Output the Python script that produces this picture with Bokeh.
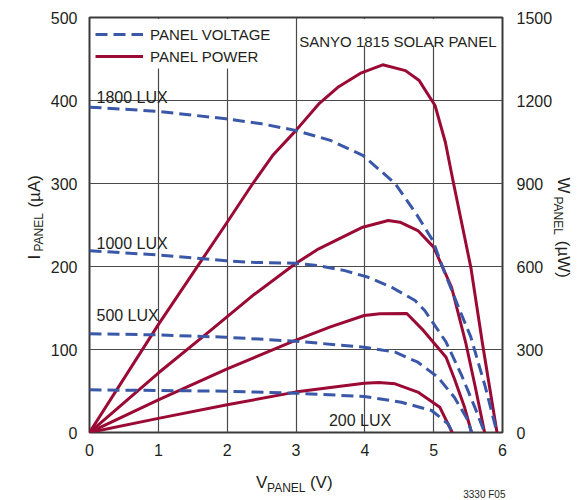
import math
from bokeh.plotting import figure
from bokeh.models import Label, Legend, LegendItem, LinearAxis, Range1d, FixedTicker, BoxAnnotation
from bokeh.embed import file_html
from bokeh.resources import INLINE

# ---------------- data ----------------
# current curves (uA) vs panel voltage (V)
v_i_1800 = [0, 0.99, 1.98, 2.5, 2.99, 3.5, 3.97, 4.44, 4.75, 4.99, 5.13, 5.38, 5.54, 5.75, 5.92]
i_1800 = [392, 387, 378, 372, 364, 352, 334, 300, 263, 231, 199, 147, 115, 55, 0]
v_i_1000 = [0, 0.99, 1.98, 2.37, 2.99, 3.33, 3.71, 4.05, 4.39, 4.73, 4.87, 5.18, 5.4, 5.6, 5.74]
i_1000 = [219, 214, 207, 205, 204, 201, 195, 187, 175, 159, 147, 109, 70, 30, 0]
v_i_500 = [0, 0.99, 1.98, 2.99, 3.99, 4.44, 4.77, 5.06, 5.30, 5.50, 5.55]
i_500 = [119, 117.6, 114.8, 110, 102.8, 96.8, 84.7, 66.7, 42.5, 14.5, 0]
v_i_200 = [0, 1.0, 1.98, 2.99, 3.99, 4.53, 4.97, 5.21, 5.27]
i_200 = [51.4, 50.6, 49.8, 47.4, 43.4, 36.5, 26.5, 10.4, 0]

# power curves (uW) vs panel voltage (V)
v_p_1800 = [0, 1, 2, 2.37, 2.66, 3.0, 3.34, 3.62, 3.95, 4.26, 4.59, 4.79, 5.02, 5.17, 5.29, 5.54, 5.71, 5.92]
p_1800 = [0, 390, 760, 899, 1001, 1092, 1190, 1250, 1300, 1329, 1308, 1272, 1182, 1049, 899, 597, 320, 0]
v_p_1000 = [0, 1, 1.76, 2.37, 2.99, 3.33, 3.97, 4.34, 4.51, 4.77, 5.0, 5.26, 5.47, 5.6, 5.74]
p_1000 = [0, 215, 369, 495, 610, 664, 742, 766, 760, 730, 670, 525, 320, 170, 0]
v_p_500 = [0, 1, 2, 2.99, 3.5, 3.99, 4.22, 4.61, 4.85, 5.18, 5.30, 5.45, 5.55]
p_500 = [0, 118, 230, 333, 382, 423, 429, 430, 369, 272, 195, 90, 0]
v_p_200 = [0, 1, 2, 2.99, 3.5, 3.99, 4.2, 4.44, 4.77, 5.09, 5.27]
p_200 = [0, 51, 100, 146, 163, 178, 181, 176, 146, 91, 0]

x_ticks = [0, 1, 2, 3, 4, 5, 6]
y_ticks = [0, 100, 200, 300, 400, 500]
y2_ticks = [0, 300, 600, 900, 1200, 1500]
lux_labels = ["1800 LUX", "1000 LUX", "500 LUX", "200 LUX"]

# ---------------- styling ----------------
FONT = "Liberation Sans"
TXT = "#231f20"
BLUE = "#3b58a8"
RED = "#9a0a34"
NB = "\u00a0"

W, H = 586, 500
L, R, T, B = 88, 84, 17, 68
FW, FH = W - L - R, H - T - B


def X(px):
    return (px - L) / FW * 6.0


def Y(py):
    return (T + FH - py) / FH * 500.0


p = figure(width=W, height=H, x_range=Range1d(0, 6), y_range=Range1d(0, 500),
           output_backend="svg", toolbar_location=None,
           min_border_left=L, min_border_right=R, min_border_top=T, min_border_bottom=B)
p.extra_y_ranges = {"pw": Range1d(0, 1500)}
p.add_layout(LinearAxis(y_range_name="pw", ticker=FixedTicker(ticks=y2_ticks)), "right")

p.xaxis.ticker = FixedTicker(ticks=x_ticks)
p.yaxis[0].ticker = FixedTicker(ticks=y_ticks)
for ax in p.axis:
    ax.axis_line_color = None
    ax.major_tick_line_color = None
    ax.minor_tick_line_color = None
    ax.major_tick_out = 0
    ax.major_tick_in = 0
    ax.minor_tick_out = 0
    ax.minor_tick_in = 0
    ax.major_label_text_font = FONT
    ax.major_label_text_font_size = "16px"
    ax.major_label_text_color = TXT
p.xaxis.major_label_standoff = 11
p.yaxis[0].major_label_standoff = 12
p.yaxis[1].major_label_standoff = 14

p.xgrid.ticker = FixedTicker(ticks=x_ticks[1:-1])
p.ygrid.ticker = FixedTicker(ticks=y_ticks[1:-1])
p.grid.grid_line_color = "#4a4a4a"
p.grid.grid_line_width = 1.2
p.outline_line_color = "#3a3a3a"
p.outline_line_width = 2
p.outline_line_alpha = 1
p.background_fill_color = "white"
p.border_fill_color = "white"

dash = "12 6"
series_i = [(v_i_1800, i_1800), (v_i_1000, i_1000), (v_i_500, i_500), (v_i_200, i_200)]
series_p = [(v_p_1800, p_1800), (v_p_1000, p_1000), (v_p_500, p_500), (v_p_200, p_200)]
r_i, r_p = [], []
for (vv, pp) in series_p:
    r_p.append(p.line(vv, pp, y_range_name="pw", line_color=RED, line_width=3, line_join="round"))
for (vv, ii) in series_i:
    r_i.append(p.line(vv, ii, line_color=BLUE, line_width=3, line_dash=dash))

# white boxes behind the legend and the panel name (they hide the grid there)
p.add_layout(BoxAnnotation(left=X(89.5), right=X(280), top=Y(18.5), bottom=Y(68),
                           fill_color="white", fill_alpha=1, line_color=None))
p.add_layout(BoxAnnotation(left=X(297), right=X(500.5), top=Y(18.5), bottom=Y(45),
                           fill_color="white", fill_alpha=1, line_color=None))

legend = Legend(items=[LegendItem(label="PANEL VOLTAGE", renderers=[r_i[0]]),
                       LegendItem(label="PANEL POWER", renderers=[r_p[0]])],
                location="top_left", margin=6, padding=5, spacing=0,
                glyph_width=48, glyph_height=22, label_height=22, label_standoff=7,
                border_line_color=None, background_fill_color="white", background_fill_alpha=1,
                label_text_font=FONT, label_text_font_size="15px", label_text_color=TXT)
p.add_layout(legend)


def lab(px, py, text, size="16px", align="left", angle=0.0, place="center"):
    p.add_layout(Label(x=X(px), y=Y(py), text=text, text_font=FONT, text_font_size=size,
                       text_color=TXT, text_align=align, text_baseline="alphabetic",
                       angle=angle), place)


lab(496, 41, "SANYO 1815 SOLAR PANEL", size="15px", align="right")
lab(95, 97, lux_labels[0])
lab(95, 243, lux_labels[1])
lab(95, 315, lux_labels[2])
lab(328, 420, lux_labels[3])

# axis titles with subscripts, placed in the side panels (outside the frame)
lab(255, 482, "V" + NB * 9 + "(V)", size="17px", place="below")
lab(266, 487, "PANEL", size="12px", place="below")

lab(33, 259, "I" + NB * 10 + "(\u00b5A)", size="17px", angle=math.pi / 2, place="left")
lab(37, 251, "PANEL", size="12px", angle=math.pi / 2, place="left")

lab(563, 177, "W" + NB * 10 + "(\u00b5W)", size="17px", angle=-math.pi / 2, place="right")
lab(558, 196, "PANEL", size="12px", angle=-math.pi / 2, place="left")

lab(505, 494, "3330 F05", size="10px", align="right", place="above")

open("out.html", "w").write(file_html(p, INLINE))
